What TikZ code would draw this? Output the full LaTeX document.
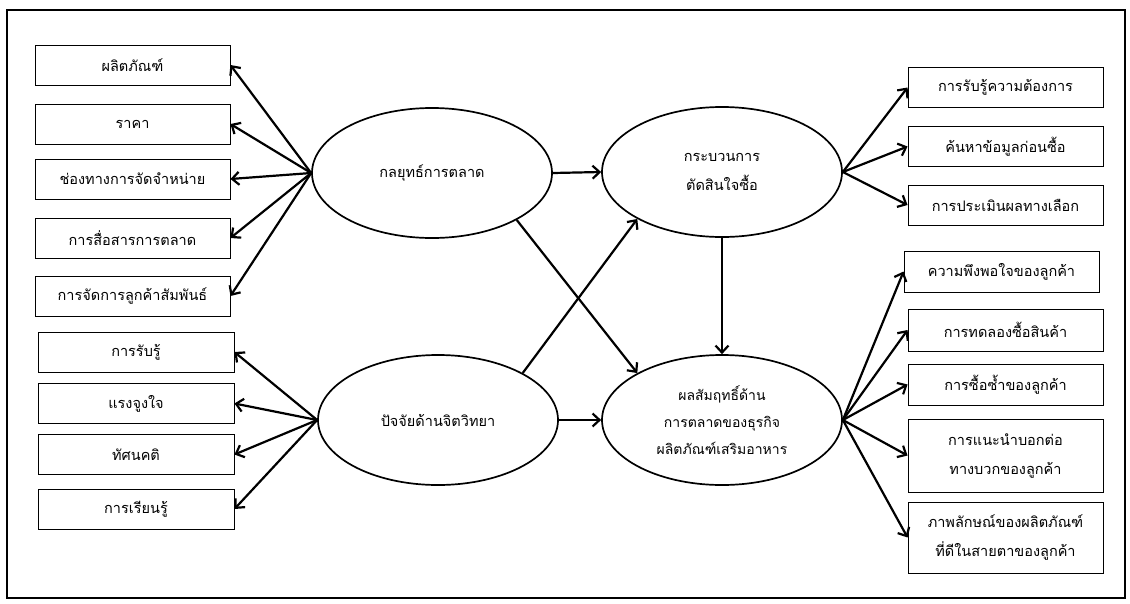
\documentclass[tikz,border=0pt]{standalone}
\usepackage{fontspec}
\newfontfamily\thaifont[Script=Thai]{Loma}
\usetikzlibrary{shapes.geometric,arrows.meta}
\begin{document}
\begin{tikzpicture}[x=1pt,y=-1pt,
 txt/.style={font=\thaifont\fontsize{14.5}{29}\selectfont},
 box/.style={draw, line width=0.9pt, minimum width=195pt, minimum height=40pt, inner sep=2pt, align=center, txt},
 ell/.style={draw, ellipse, line width=1.7pt, minimum width=240pt, minimum height=130pt, inner sep=0pt, align=center, txt},
 arr/.style={line width=2.2pt, -{Straight Barb[length=7pt,width=13pt]}},
]
\useasboundingbox (0,0) rectangle (1130,603);
\draw[line width=1.8pt] (7,10) rectangle (1125,598);

% left group 1
\node[box] (l1) at (132.5,65) {ผลิตภัณฑ์};
\node[box] (l2) at (132.5,124) {ราคา};
\node[box] (l3) at (132.5,179) {ช่องทางการจัดจำหน่าย};
\node[box] (l4) at (132.5,238) {การสื่อสารการตลาด};
\node[box] (l5) at (132.5,296) {การจัดการลูกค้าสัมพันธ์};
% left group 2
\node[box, minimum width=196pt] (p1) at (136,352) {การรับรู้};
\node[box, minimum width=196pt] (p2) at (136,403.5) {แรงจูงใจ};
\node[box, minimum width=196pt] (p3) at (136,454.5) {ทัศนคติ};
\node[box, minimum width=196pt] (p4) at (136,509) {การเรียนรู้};

% ellipses
\node[ell] (e1) at (432,173) {กลยุทธ์การตลาด};
\node[ell] (e2) at (438,420) {ปัจจัยด้านจิตวิทยา};
\node[ell] (e3) at (722,172) {กระบวนการ\\ตัดสินใจซื้อ};
\node[ell, font=\thaifont\fontsize{14}{27}\selectfont] (e4) at (722,420) {ผลสัมฤทธิ์ด้าน\\การตลาดของธุรกิจ\\ผลิตภัณฑ์เสริมอาหาร};

% right group 1
\node[box] (r1) at (1005.5,87.5) {การรับรู้ความต้องการ};
\node[box] (r2) at (1005.5,146.5) {ค้นหาข้อมูลก่อนซื้อ};
\node[box] (r3) at (1005.5,205) {การประเมินผลทางเลือก};
% right group 2
\node[box, minimum height=41pt] (s1) at (1001.5,271.5) {ความพึงพอใจของลูกค้า};
\node[box, minimum height=42pt] (s2) at (1005.5,330) {การทดลองซื้อสินค้า};
\node[box, minimum height=41pt] (s3) at (1005.5,384.5) {การซื้อซ้ำของลูกค้า};
\node[box, minimum height=73pt] (s4) at (1005.5,455.5) {การแนะนำบอกต่อ\\ทางบวกของลูกค้า};
\node[box, minimum height=71pt] (s5) at (1005.5,537.5) {ภาพลักษณ์ของผลิตภัณฑ์\\ที่ดีในสายตาของลูกค้า};

% arrows left
\foreach \b in {l1,l2,l3,l4,l5} \draw[arr] (e1.west) -- (\b.east);
\foreach \b in {p1,p2,p3,p4} \draw[arr] (e2.west) -- (\b.east);
% arrows right
\foreach \b in {r1,r2,r3} \draw[arr] (e3.east) -- (\b.west);
\foreach \b in {s1,s2,s3,s4,s5} \draw[arr] (e4.east) -- (\b.west);
% middle
\draw[arr] (e1.east) -- (e3.west);
\draw[arr] (e2.east) -- (e4.west);
\draw[arr] (e1.-29) -- (e4.151);
\draw[arr] (e2.29) -- (e3.-151);
\draw[arr] (e3.south) -- (e4.north);
\end{tikzpicture}
\end{document}
